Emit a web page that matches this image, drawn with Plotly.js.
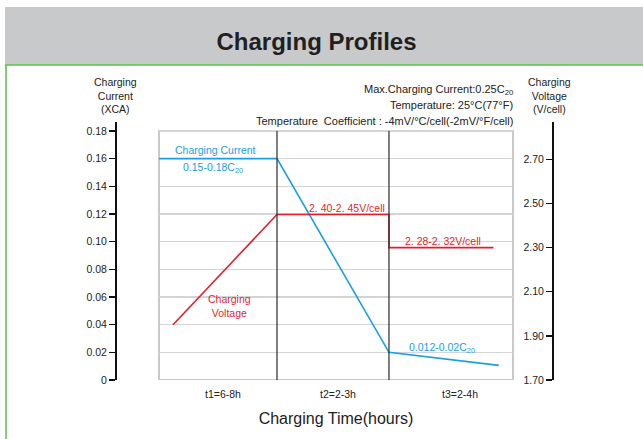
<!DOCTYPE html>
<html>
<head>
<meta charset="utf-8">
<script src="https://cdn.plot.ly/plotly-3.0.1.min.js"></script>
<style>html,body{margin:0;padding:0;background:#fff;}#chart{width:643px;height:439px;}</style>
</head>
<body>
<div id="chart"></div>
<script>
// ---- data ----
// x in relative time units: segment t1 = [0,1], t2 = [1,1.949], t3 = [1.949,3]
const phaseBounds = [1.0, 1.949];
const phaseLabelPos = [0.542, 1.517, 2.551];
const phaseLabels = ['t1=6-8h', 't2=2-3h', 't3=2-4h'];

const currentX = [0, 1.0, 1.949, 2.88];
const currentY = [0.16, 0.16, 0.02, 0.0106];

const voltageX = [0.119, 1.0, 1.949, 1.949, 2.834];
const voltageY = [1.95, 2.45, 2.45, 2.30, 2.30];

const currentTicks = [0, 0.02, 0.04, 0.06, 0.08, 0.10, 0.12, 0.14, 0.16, 0.18];
const currentTickText = ['0', '0.02', '0.04', '0.06', '0.08', '0.10', '0.12', '0.14', '0.16', '0.18'];
const voltageTicks = [1.70, 1.90, 2.10, 2.30, 2.50, 2.70];
const voltageTickText = ['1.70', '1.90', '2.10', '2.30', '2.50', '2.70'];

// ---- layout helpers (pixel -> paper) ----
const W = 643, H = 439;
const px = v => v / W;
const py = v => 1 - v / H;

const NARROW = '"Liberation Sans Narrow", "Liberation Sans", Arial, sans-serif';
const SANS = '"Liberation Sans", Arial, sans-serif';
const BLUE = '#1a9ee2';
const RED = '#e41f2b';
const GREEN = '#5cb84a';

const traces = [
  {x: currentX, y: currentY, mode: 'lines', line: {color: BLUE, width: 1.6}, xaxis: 'x', yaxis: 'y', hoverinfo: 'skip'},
  {x: voltageX, y: voltageY, mode: 'lines', line: {color: RED, width: 1.6}, xaxis: 'x', yaxis: 'y2', hoverinfo: 'skip'}
];

const shapes = [
  // header band
  {type: 'rect', xref: 'paper', yref: 'paper', x0: px(5), x1: 1, y0: py(64.5), y1: py(7), fillcolor: '#c8c9cb', line: {width: 0}, layer: 'below'},
  {type: 'line', xref: 'paper', yref: 'paper', x0: px(5), x1: 1, y0: py(65), y1: py(65), line: {color: GREEN, width: 1.5}},
  {type: 'line', xref: 'paper', yref: 'paper', x0: px(6), x1: px(6), y0: py(65), y1: 0, line: {color: GREEN, width: 1.5}},
  // plot box
  {type: 'rect', xref: 'x domain', yref: 'y', x0: 0, x1: 1, y0: 0, y1: 0.18, line: {color: '#c9c9c9', width: 2}, layer: 'below'}
];
phaseBounds.forEach(b => shapes.push({type: 'line', xref: 'x', yref: 'y', x0: b, x1: b, y0: 0, y1: 0.18, line: {color: '#2b2b2b', width: 1.2}}));

const ann = (x, y, text, opts) => Object.assign({xref: 'paper', yref: 'paper', x: px(x), y: py(y), text: text, showarrow: false, xanchor: 'center', yanchor: 'middle', font: {family: NARROW, size: 10.5, color: '#222'}}, opts || {});

const annotations = [
  ann(115, 95, 'Charging<br>Current<br>(XCA)', {font: {family: NARROW, size: 10.5, color: '#222'}}),
  ann(549, 95, 'Charging<br>Voltage<br>(V/cell)', {font: {family: NARROW, size: 10.5, color: '#222'}}),
  ann(515, 90, 'Max.Charging Current:0.25C<sub>20</sub>', {xanchor: 'right', font: {family: SANS, size: 11, color: '#222'}}),
  ann(515, 105, 'Temperature: 25°C(77°F)', {xanchor: 'right', font: {family: SANS, size: 11, color: '#222'}}),
  ann(515, 121, 'Temperature  Coefficient : -4mV/°C/cell(-2mV/°F/cell)', {xanchor: 'right', font: {family: SANS, size: 11, color: '#222'}}),
  ann(215, 150, 'Charging Current', {font: {family: NARROW, size: 10.5, color: BLUE}}),
  ann(213, 168, '0.15-0.18C<sub>20</sub>', {font: {family: NARROW, size: 10.5, color: BLUE}}),
  ann(347, 208, '2. 40-2. 45V/cell', {font: {family: NARROW, size: 10.5, color: RED}}),
  ann(229, 306, 'Charging<br>Voltage', {font: {family: NARROW, size: 10.5, color: RED}}),
  ann(443, 241, '2. 28-2. 32V/cell', {font: {family: NARROW, size: 10.5, color: RED}}),
  ann(442, 348, '0.012-0.02C<sub>20</sub>', {font: {family: NARROW, size: 10.5, color: BLUE}})
];

const layout = {
  width: W, height: H,
  margin: {l: 0, r: 0, t: 0, b: 0},
  paper_bgcolor: '#fff', plot_bgcolor: 'rgba(0,0,0,0)',
  showlegend: false,
  title: {text: '<b>Charging Profiles</b>', font: {family: SANS, size: 24, color: '#231f20'}, x: px(316.5), xanchor: 'center', xref: 'paper', y: py(42), yanchor: 'middle', yref: 'paper'},
  xaxis: {
    domain: [px(159), px(513)], range: [0, 3.0], anchor: 'y',
    showline: false, showgrid: false, zeroline: false,
    tickmode: 'array', tickvals: phaseLabelPos, ticktext: phaseLabels, ticks: '',
    ticklabelstandoff: 6,
    tickfont: {family: NARROW, size: 10.5, color: '#222'},
    title: {text: 'Charging Time(hours)', font: {family: SANS, size: 16, color: '#222'}, standoff: 14},
    automargin: false, fixedrange: true
  },
  yaxis: {
    domain: [py(380), py(122)], range: [0, 0.1865],
    anchor: 'free', position: px(116), side: 'left',
    showline: true, linecolor: '#111', linewidth: 2,
    ticks: 'outside', ticklen: 6, tickwidth: 1.5, tickcolor: '#111',
    tickmode: 'array', tickvals: currentTicks, ticktext: currentTickText,
    tickfont: {family: NARROW, size: 10.5, color: '#222'},
    showgrid: true, gridcolor: '#d4d4d4', gridwidth: 1.5, zeroline: false,
    automargin: false, fixedrange: true
  },
  yaxis2: {
    overlaying: 'y', range: [1.70, 2.869],
    anchor: 'free', position: px(553), side: 'left',
    showline: true, linecolor: '#111', linewidth: 2,
    ticks: 'outside', ticklen: 6, tickwidth: 1.5, tickcolor: '#111',
    tickmode: 'array', tickvals: voltageTicks, ticktext: voltageTickText,
    tickfont: {family: NARROW, size: 10.5, color: '#222'},
    showgrid: false, zeroline: false,
    automargin: false, fixedrange: true
  },
  shapes: shapes,
  annotations: annotations
};

Plotly.newPlot('chart', traces, layout, {displayModeBar: false, staticPlot: true});
</script>
</body>
</html>
